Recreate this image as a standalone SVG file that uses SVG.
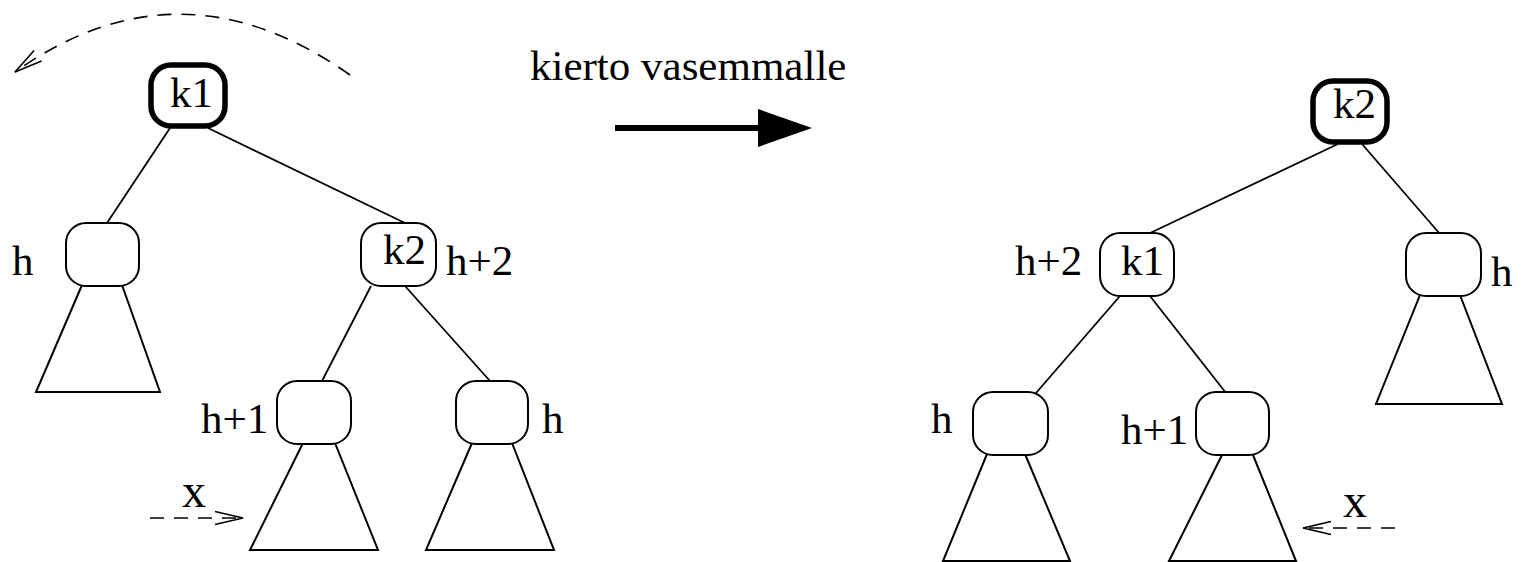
<svg xmlns="http://www.w3.org/2000/svg" width="1523" height="562" viewBox="0 0 1523 562">
<style>
.n{fill:#fff;stroke:#000;stroke-width:2}
.r{fill:#fff;stroke:#000;stroke-width:5.5}
.e{stroke:#000;stroke-width:1.8;fill:none}
.t{fill:none;stroke:#000;stroke-width:2}
.d{stroke:#000;stroke-width:1.6;fill:none;stroke-dasharray:14 10}
text{font-family:"Liberation Serif","Times New Roman",serif;font-size:43px;fill:#000}
.x{font-size:48px}
</style>
<defs>
<marker id="open" markerWidth="32" markerHeight="16" refX="30" refY="8" orient="auto" markerUnits="userSpaceOnUse">
<path d="M2,1.5 L30,8 L2,14.5" fill="none" stroke="#000" stroke-width="1.6"/>
</marker>
</defs>
<g id="connectors">
<line class="e" x1="170" y1="128" x2="107" y2="223"/>
<line class="e" x1="208" y1="128" x2="405" y2="223"/>
<line class="e" x1="371" y1="286" x2="322" y2="381"/>
<line class="e" x1="405" y1="286" x2="490" y2="381"/>
<line class="e" x1="1338" y1="144" x2="1148" y2="234"/>
<line class="e" x1="1362" y1="144" x2="1440" y2="234"/>
<line class="e" x1="1120" y1="296" x2="1036" y2="393"/>
<line class="e" x1="1150" y1="296" x2="1226" y2="393"/>
<path class="d" d="M350,75 Q180,-45 15,72" marker-end="url(#open)"/>
<line class="d" x1="150" y1="518" x2="243" y2="518" marker-end="url(#open)"/>
<line class="d" x1="1395" y1="528" x2="1303" y2="528" marker-end="url(#open)"/>
</g>
<g id="bigarrow">
<line x1="615" y1="128" x2="765" y2="128" stroke="#000" stroke-width="6"/>
<polygon points="758,109 812,128 758,147" fill="#000"/>
<text x="530" y="80">kierto vasemmalle</text>
</g>
<g id="L_tri_h"><path class="t" d="M82,285 L36,392 L160,392 L122,285"/></g>
<g id="L_tri_h1"><path class="t" d="M303,443 L250,550 L378,550 L335,443"/></g>
<g id="L_tri_h2"><path class="t" d="M472,443 L426,550 L554,550 L512,443"/></g>
<g id="R_tri_h"><path class="t" d="M1420,295 L1376,404 L1502,404 L1460,295"/></g>
<g id="R_tri_h1"><path class="t" d="M987,454 L943,561 L1070,561 L1025,454"/></g>
<g id="R_tri_h2"><path class="t" d="M1222,455 L1169,561 L1296,561 L1253,455"/></g>
<g id="L_k1"><rect class="r" x="151" y="65" width="74" height="61" rx="20"/><text x="170" y="107">k1</text></g>
<g id="L_h"><rect class="n" x="66" y="223" width="73" height="63" rx="20"/><text x="12" y="275">h</text></g>
<g id="L_k2"><rect class="n" x="361" y="223" width="75" height="63" rx="20"/><text x="383" y="264">k2</text><text x="446" y="275">h+2</text></g>
<g id="L_h1"><rect class="n" x="277" y="381" width="74" height="63" rx="20"/><text x="201" y="433">h+1</text></g>
<g id="L_hr"><rect class="n" x="456" y="381" width="72" height="63" rx="20"/><text x="542" y="433">h</text></g>
<g id="L_x"><text class="x" x="182" y="507">x</text></g>
<g id="R_k2"><rect class="r" x="1313" y="81" width="74" height="61" rx="20"/><text x="1333" y="118">k2</text></g>
<g id="R_k1"><rect class="n" x="1100" y="233" width="74" height="63" rx="20"/><text x="1121" y="275">k1</text><text x="1015" y="275">h+2</text></g>
<g id="R_h"><rect class="n" x="1406" y="233" width="75" height="63" rx="20"/><text x="1491" y="286">h</text></g>
<g id="R_h0"><rect class="n" x="973" y="392" width="75" height="63" rx="20"/><text x="931" y="433">h</text></g>
<g id="R_h1"><rect class="n" x="1196" y="392" width="73" height="63" rx="20"/><text x="1121" y="444">h+1</text></g>
<g id="R_x"><text class="x" x="1343" y="517">x</text></g>
</svg>
